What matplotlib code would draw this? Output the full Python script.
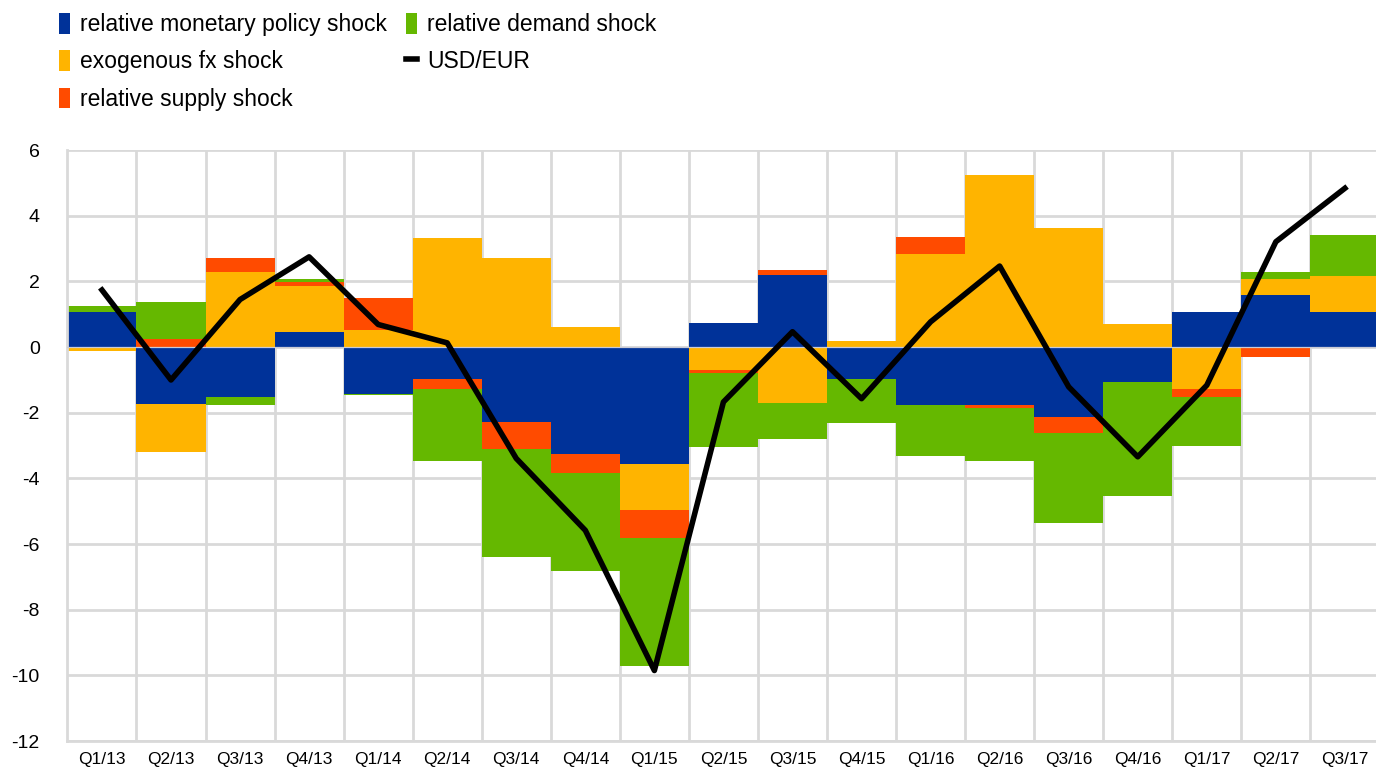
import matplotlib

matplotlib.use("Agg")
import matplotlib.pyplot as plt  # noqa: E402
import numpy as np  # noqa: E402

plt.rcParams["font.family"] = ["Liberation Sans", "DejaVu Sans"]
plt.rcParams["axes.unicode_minus"] = False

quarters = [
    "Q1/13", "Q2/13", "Q3/13", "Q4/13", "Q1/14", "Q2/14", "Q3/14", "Q4/14",
    "Q1/15", "Q2/15", "Q3/15", "Q4/15", "Q1/16", "Q2/16", "Q3/16", "Q4/16",
    "Q1/17", "Q2/17", "Q3/17",
]
monetary = [1.08, -1.72, -1.51, 0.45, -1.43, -0.98, -2.28, -3.26, -3.57, 0.74,
            2.20, -0.98, -1.77, -1.77, -2.12, -1.06, 1.08, 1.59, 1.08]
fx = [-0.12, -1.47, 2.28, 1.41, 0.52, 3.31, 2.70, 0.60, -1.38, -0.70,
      -1.70, 0.18, 2.83, 5.24, 3.62, 0.72, -1.26, 0.50, 1.08]
supply = [0.0, 0.24, 0.45, 0.13, 0.98, -0.31, -0.81, -0.56, -0.85, -0.08,
          0.15, 0.0, 0.53, -0.07, -0.49, 0.0, -0.25, -0.30, -0.04]
demand = [0.18, 1.12, -0.24, 0.10, -0.04, -2.18, -3.30, -3.00, -3.92, -2.26,
          -1.10, -1.32, -1.54, -1.63, -2.76, -3.48, -1.51, 0.19, 1.25]
usd_eur = [1.74, -1.00, 1.45, 2.75, 0.69, 0.13, -3.39, -5.58, -9.85, -1.67,
           0.47, -1.57, 0.77, 2.47, -1.21, -3.34, -1.16, 3.21, 4.84]

series = [
    ("relative monetary policy shock", monetary, "#003299"),
    ("exogenous fx shock", fx, "#FFB400"),
    ("relative supply shock", supply, "#FF4B00"),
    ("relative demand shock", demand, "#65B800"),
]

fig = plt.figure(figsize=(13.76, 7.72), dpi=100)
ax = fig.add_axes([0.049, 0.040, 0.9535, 0.7655])

x = np.arange(len(quarters))
pos_base = np.zeros(len(quarters))
neg_base = np.zeros(len(quarters))
handles = {}
for label, values, color in series:
    values = np.array(values)
    bottom = np.where(values >= 0, pos_base, neg_base)
    bars = ax.bar(x, values, width=1.0, bottom=bottom, color=color,
                  linewidth=0, label=label, zorder=2)
    handles[label] = bars
    pos_base += np.clip(values, 0, None)
    neg_base += np.clip(values, None, 0)

ax.axhline(0, color="#c9cbd6", linewidth=0.9, zorder=3)
(line,) = ax.plot(x, usd_eur, color="black", linewidth=4, zorder=4,
                  label="USD/EUR")

ax.set_xlim(-0.5, len(quarters) - 0.5)
ax.set_ylim(-12, 6)
ax.set_yticks(np.arange(-12, 7, 2))
ax.set_xticks(x)
ax.set_xticklabels(quarters, fontsize=12.5)
ax.set_xticks(np.arange(0.5, len(quarters) - 0.5, 1), minor=True)
ax.tick_params(axis="y", labelsize=14, length=0, pad=20)
ax.tick_params(axis="x", which="both", length=0, pad=8)
ax.set_axisbelow(True)
ax.grid(axis="y", which="major", color="#d9d9d9", linewidth=2)
ax.grid(axis="x", which="minor", color="#d9d9d9", linewidth=2)
for side in ["top", "right"]:
    ax.spines[side].set_visible(False)
for side in ["left", "bottom"]:
    ax.spines[side].set_color("#d9d9d9")
    ax.spines[side].set_linewidth(2)

legend_order = [
    handles["relative monetary policy shock"],
    handles["exogenous fx shock"],
    handles["relative supply shock"],
    handles["relative demand shock"],
    line,
]
legend_labels = [
    "relative monetary policy shock",
    "exogenous fx shock",
    "relative supply shock",
    "relative demand shock",
    "USD/EUR",
]
fig.legend(legend_order, legend_labels, ncol=2, loc="upper left",
           bbox_to_anchor=(0.036, 0.995), frameon=False, fontsize=16.5,
           handlelength=0.5, handleheight=1.0, handletextpad=0.45,
           columnspacing=0.8, labelspacing=0.62, borderaxespad=0)

fig.savefig("out.png", dpi=100)
